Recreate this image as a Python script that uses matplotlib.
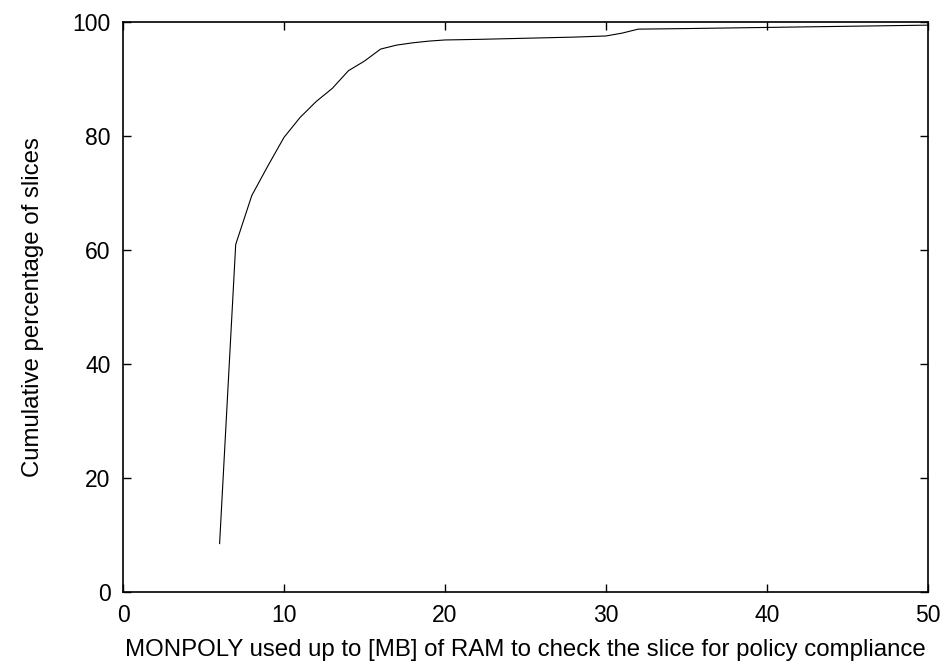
import matplotlib
matplotlib.use("Agg")
import matplotlib.pyplot as plt

plt.rcParams['font.family'] = ['Liberation Sans', 'DejaVu Sans']

ram_mb = [6, 7, 8, 9, 10, 11, 12, 13, 14, 15, 16, 17, 18, 19, 20, 22, 25, 28, 30, 31, 32, 35, 40, 45, 50]
cum_pct = [8.5, 61.0, 69.6, 74.8, 79.8, 83.3, 86.1, 88.4, 91.5, 93.2, 95.3, 96.0, 96.4, 96.7, 96.9,
           97.0, 97.2, 97.4, 97.6, 98.1, 98.8, 98.9, 99.1, 99.3, 99.5]

x_ticks = [0, 10, 20, 30, 40, 50]
y_ticks = [0, 20, 40, 60, 80, 100]

fig = plt.figure(figsize=(9.47, 6.69), dpi=100)
ax = fig.add_axes([123/947, 1 - 592/669, (928 - 123)/947, (592 - 22.3)/669])
ax.plot(ram_mb, cum_pct, color='black', linewidth=0.8)
ax.set_xlim(0, 50)
ax.set_ylim(0, 100)
ax.set_xticks(x_ticks)
ax.set_yticks(y_ticks)
ax.tick_params(direction='in', length=6, width=1, top=True, right=True, labelsize=16.5, pad=9)
for s in ax.spines.values():
    s.set_linewidth(1.2)
ax.set_xlabel('MONPOLY used up to [MB] of RAM to check the slice for policy compliance', fontsize=17.3, labelpad=8)
ax.set_ylabel('Cumulative percentage of slices', fontsize=17.3, labelpad=20)
fig.savefig('out.png', dpi=100)
